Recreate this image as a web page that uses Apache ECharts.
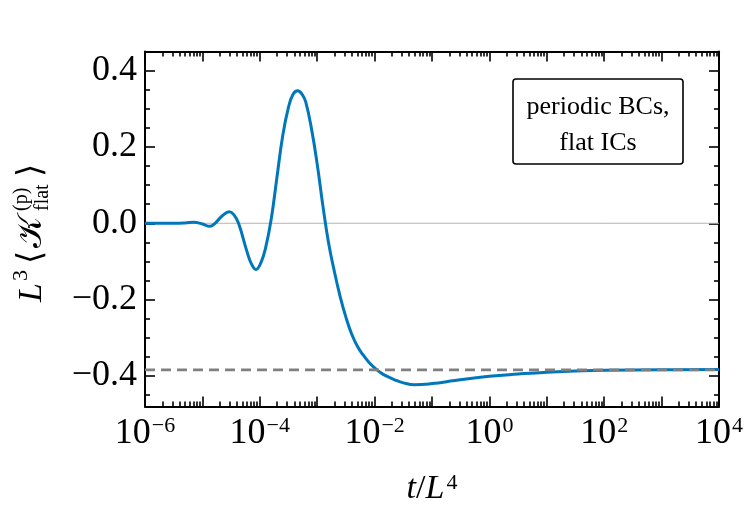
<!DOCTYPE html>
<html>
<head>
<meta charset="utf-8">
<script src="https://cdn.jsdelivr.net/npm/echarts@6/dist/echarts.min.js"></script>
<style>html,body{margin:0;padding:0;background:#fff}#c{width:750px;height:521px}</style>
</head>
<body>
<div id="c"></div>
<script>
// ---- data ----
// x values are given as log10(t/L^4)
var logT = [-6.0, -5.5, -5.3, -5.15, -5.0, -4.87, -4.78, -4.65, -4.53, -4.45, -4.37, -4.23, -4.15, -4.066, -3.98, -3.9, -3.8, -3.7, -3.6, -3.5, -3.42, -3.34, -3.26, -3.2, -3.1, -3.0, -2.9, -2.8, -2.7, -2.6, -2.5, -2.4, -2.3, -2.2, -2.1, -2.0, -1.9, -1.8, -1.65, -1.5, -1.3, -1.0, -0.6, 0.0, 0.5, 1.0, 1.5, 2.0, 3.0, 4.0];
var kFlat = [0.0, 0.0, 0.001, 0.003, -0.002, -0.008, 0.0, 0.020, 0.030, 0.022, 0.0, -0.071, -0.105, -0.121, -0.103, -0.065, 0.012, 0.122, 0.230, 0.304, 0.338, 0.347, 0.337, 0.318, 0.248, 0.155, 0.045, -0.053, -0.127, -0.192, -0.246, -0.290, -0.322, -0.345, -0.364, -0.379, -0.391, -0.400, -0.410, -0.418, -0.423, -0.420, -0.412, -0.401, -0.395, -0.390, -0.387, -0.385, -0.384, -0.383];
var asymptote = [-0.3843];
var zeroLine = [0];
var xMin = 1e-6, xMax = 1e4;
var yMin = -0.48, yMax = 0.45;
var xMajorExp = [-6, -5, -4, -3, -2, -1, 0, 1, 2, 3, 4];
var xLabelExp = [-6, -4, -2, 0, 2, 4];
var yMajor = [-0.4, -0.2, 0.0, 0.2, 0.4];
var yMinor = [-0.45, -0.35, -0.3, -0.25, -0.15, -0.1, -0.05, 0.05, 0.1, 0.15, 0.25, 0.3, 0.35];
var boxLines = ['periodic BCs,', 'flat ICs'];

// ---- build ----
var SERIF = '"Liberation Serif", "DejaVu Serif", serif';
var curve = logT.map(function (e, i) { return [Math.pow(10, e), kFlat[i]]; });
var xMajor = xMajorExp.map(function (e) { return Math.pow(10, e); });
var xLabels = xLabelExp.map(function (e) { return Math.pow(10, e); });
var xMinor = [];
for (var d = -6; d < 4; d++) { for (var m = 2; m <= 9; m++) { xMinor.push(m * Math.pow(10, d)); } }

function xAx(pos, vals, len, showLine, withLabels) {
  var ax = {
    type: 'log', logBase: 10, min: xMin, max: xMax, position: pos, gridIndex: 0,
    axisLine: { show: showLine, onZero: false, lineStyle: { color: '#000', width: 2 } },
    axisTick: { show: true, inside: true, length: len, customValues: vals, lineStyle: { color: '#000', width: 1.6 } },
    splitLine: { show: false }, minorTick: { show: false }, minorSplitLine: { show: false },
    axisLabel: { show: false }
  };
  if (withLabels) {
    ax.axisLabel = {
      show: true, customValues: xLabels, margin: 9,
      formatter: function (v) {
        var e = Math.round(Math.log10(v));
        return '{b|10}{s|' + (e < 0 ? '\u2212' + (-e) : e) + '}';
      },
      rich: {
        b: { fontFamily: SERIF, fontSize: 36, color: '#000', verticalAlign: 'bottom' },
        s: { fontFamily: SERIF, fontSize: 22, color: '#000', verticalAlign: 'top', padding: [0, 0, 0, 1] }
      }
    };
    ax.name = '{i|t}{n|/}{i|L}{s|4}';
    ax.nameLocation = 'middle';
    ax.nameGap = 66;
    ax.nameTextStyle = {
      rich: {
        i: { fontFamily: SERIF, fontStyle: 'italic', fontSize: 34, color: '#000', verticalAlign: 'bottom' },
        n: { fontFamily: SERIF, fontSize: 34, color: '#000', verticalAlign: 'bottom' },
        s: { fontFamily: SERIF, fontSize: 22, color: '#000', verticalAlign: 'top', padding: [0, 0, 0, 2] }
      }
    };
  }
  return ax;
}
function yAx(pos, vals, len, showLine, withLabels) {
  var ax = {
    type: 'value', min: yMin, max: yMax, position: pos, gridIndex: 0,
    axisLine: { show: showLine, onZero: false, lineStyle: { color: '#000', width: 2 } },
    axisTick: { show: true, inside: true, length: len, customValues: vals, lineStyle: { color: '#000', width: 1.6 } },
    splitLine: { show: false },
    axisLabel: { show: false }
  };
  if (withLabels) {
    ax.axisLabel = {
      show: true, customValues: yMajor, margin: 8,
      fontFamily: SERIF, fontSize: 36, color: '#000',
      formatter: function (v) {
        var s = Math.abs(v).toFixed(1);
        return (v < -1e-9 ? '\u2212' : '') + s;
      }
    };
  }
  return ax;
}

var chart = echarts.init(document.getElementById('c'), null, { renderer: 'canvas' });
var gridL = 145, gridR = 31, gridT = 51.5, gridB = 114.5;
var option = {
  animation: false,
  backgroundColor: '#fff',
  grid: { left: gridL, right: gridR, top: gridT, bottom: gridB, containLabel: false },
  xAxis: [
    xAx('bottom', xMajor, 10, true, true),
    xAx('bottom', xMinor, 5, false, false),
    xAx('top', xMajor, 10, true, false),
    xAx('top', xMinor, 5, false, false)
  ],
  yAxis: [
    yAx('left', yMajor, 10, true, true),
    yAx('left', yMinor, 5, false, false),
    yAx('right', yMajor, 10, true, false),
    yAx('right', yMinor, 5, false, false)
  ],
  series: [
    {
      type: 'line', xAxisIndex: 0, yAxisIndex: 0, z: 1, silent: true, showSymbol: false,
      data: [[xMin, zeroLine[0]], [xMax, zeroLine[0]]],
      lineStyle: { color: '#b4b4b4', width: 1 }
    },
    {
      type: 'line', xAxisIndex: 0, yAxisIndex: 0, z: 3, showSymbol: false, smooth: 0.45,
      data: curve,
      lineStyle: { color: '#0077BB', width: 3 }
    },
    {
      type: 'line', xAxisIndex: 0, yAxisIndex: 0, z: 4, silent: true, showSymbol: false,
      data: [[xMin, asymptote[0]], [xMax, asymptote[0]]],
      lineStyle: { color: '#808080', width: 2.8, type: [10, 6] }
    }
  ],
  graphic: [
    {
      type: 'group', x: 44, y: 302, rotation: Math.PI / 2,
      children: [
        { type: 'text', x: 0, y: -12, style: { text: 'L', font: 'italic 34px ' + SERIF, fill: '#000', textVerticalAlign: 'middle' } },
        { type: 'text', x: 21, y: -23, style: { text: '3', font: '22px ' + SERIF, fill: '#000', textVerticalAlign: 'middle' } },
        { type: 'text', x: 38, y: -12, style: { text: '\u27E8', font: '34px ' + SERIF, fill: '#000', textVerticalAlign: 'middle' } },
        { type: 'text', x: 54, y: -12, style: { text: '\uD835\uDCA6', font: '34px ' + SERIF, fill: '#000', textVerticalAlign: 'middle' } },
        { type: 'text', x: 91, y: -22, style: { text: '(p)', font: '20px ' + SERIF, fill: '#000', textVerticalAlign: 'middle' } },
        { type: 'text', x: 91, y: -1, style: { text: 'flat', font: '20px ' + SERIF, fill: '#000', textVerticalAlign: 'middle' } },
        { type: 'text', x: 125, y: -12, style: { text: '\u27E9', font: '34px ' + SERIF, fill: '#000', textVerticalAlign: 'middle' } }
      ]
    },
    {
      type: 'rect', z: 10,
      shape: { x: 513, y: 79, width: 170, height: 85, r: 3 },
      style: { fill: '#fff', stroke: '#000', lineWidth: 1.6 }
    },
    {
      type: 'text', z: 11, x: 598, y: 107,
      style: { text: boxLines[0], font: '26px ' + SERIF, fill: '#000', textAlign: 'center', textVerticalAlign: 'middle' }
    },
    {
      type: 'text', z: 11, x: 598, y: 143,
      style: { text: boxLines[1], font: '26px ' + SERIF, fill: '#000', textAlign: 'center', textVerticalAlign: 'middle' }
    }
  ]
};
chart.setOption(option);
</script>
</body>
</html>
